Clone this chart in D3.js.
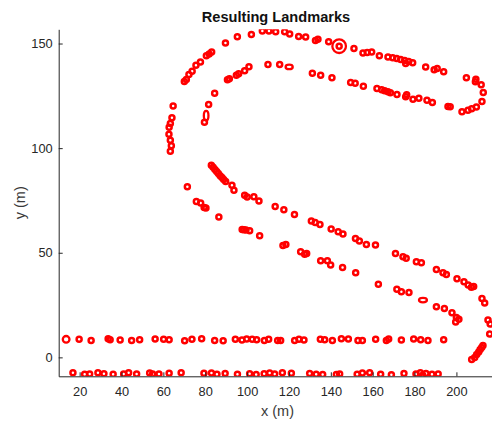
<!DOCTYPE html>
<html>
<head>
<meta charset="utf-8">
<script src="https://cdn.jsdelivr.net/npm/d3@7"></script>
<style>
  body { margin: 0; background: #fff; }
  svg { display: block; }
  text { font-family: "Liberation Sans", Arial, Helvetica, sans-serif; fill: #262626; }
</style>
</head>
<body>
<svg id="chart" width="492" height="421"></svg>
<script>
// Estimated landmark positions [x (m), y (m)], grouped by the road edge they line.
const upperRow = [[19.76,8.6],[25.49,8.1],[33.62,8.9],[34.57,8.4],[39.35,8.3],[44.84,8.1],[48.67,8.4],[56.07,8.8],[60.13,8.6],[62.76,8.4],[70.17,7.9],[73.66,8.6],[78.29,8.9],[84.50,8.1],[88.56,7.9],[94.39,8.6],[97.54,8.3],[99.79,8.8],[102.42,8.6],[104.57,8.4],[108.25,8.1],[110.30,8.6],[114.60,8.1],[116.03,8.1],[122.72,8.1],[124.78,8.6],[127.17,8.3],[135.00,8.6],[137.06,8.4],[140.74,8.1],[145.04,8.9],[148.38,8.8],[152.97,8.1],[155.07,8.1],[161.42,8.6],[166.53,8.1],[167.63,8.8],[173.70,8.3],[179.58,8.8],[182.92,8.4],[186.41,8.1],[193.91,8.4]];

const lowerRow = [[16.80,-7.3],[22.39,-8.1],[24.78,-7.9],[28.74,-7.4],[31.61,-7.8],[36.01,-8.1],[41.02,-7.9],[43.41,-7.4],[47.23,-8.0],[53.45,-7.5],[54.88,-7.9],[57.89,-8.0],[62.76,-7.6],[68.50,-7.3],[79.39,-7.6],[82.97,-7.5],[85.60,-8.1],[89.52,-7.7],[95.39,-8.1],[101.22,-7.8],[104.33,-8.2],[108.15,-7.8],[110.78,-7.5],[113.17,-7.9],[116.85,-7.4],[121.15,-7.6],[129.89,-7.7],[133.00,-8.1],[136.10,-8.2],[142.65,-8.2],[144.22,-8.0],[152.59,-8.1],[155.07,-7.5],[158.56,-7.4],[163.81,-8.1],[168.93,-8.3],[174.95,-7.7],[180.68,-7.9],[182.78,-7.4],[183.88,-8.5],[185.46,-7.7],[188.32,-8.1],[191.28,-8.0]];

const turnEntry = [[207.29,-1.05],[208.73,-0.1],[209.68,1.34],[210.64,2.53],[211.35,3.73],[212.07,4.68],[212.69,5.64],[215.89,11.13],[216.13,15.91],[215.08,17.82]];

const upperDiagonal = [[82.92,91.88],[83.78,90.92],[84.64,89.82],[85.46,88.87],[86.27,87.91],[87.13,86.86],[87.99,85.91],[88.80,85.05],[89.76,84.09],[92.77,82.32],[93.72,79.93],[98.83,77.54],[100.03,76.59],[103.23,76.73],[105.67,74.68],[113.41,72.05],[117.56,70.52],[122.63,68.32],[130.70,65.22],[132.52,64.50],[134.81,63.55],[140.16,61.40],[143.51,60.01],[145.80,58.91],[151.77,56.86],[153.64,55.57],[156.98,53.99],[161.33,53.66],[170.88,49.69],[174.47,48.06],[176.00,47.35],[180.87,45.68],[183.26,45.20],[190.43,41.95],[193.58,40.42],[195.20,39.66],[200.27,37.55],[203.61,36.12],[205.62,34.54],[207.15,33.49],[208.24,33.92],[212.21,28.19],[213.50,26.04]];

const lowerDiagonal = [[71.46,81.51],[75.76,74.53],[77.81,73.72],[79.48,71.57],[80.34,71.33],[86.51,67.03],[97.64,61.16],[98.50,61.00],[99.46,60.92],[101.22,60.49],[106.00,58.10],[117.13,53.51],[118.52,53.99],[125.59,50.45],[127.50,49.26],[128.46,49.69],[135.15,46.15],[138.35,46.15],[139.92,44.10],[145.61,42.90],[151.87,40.42],[162.71,34.93],[171.55,32.54],[173.70,31.34],[177.33,30.96],[190.43,24.18],[194.25,23.41],[197.88,21.31],[199.98,19.02],[201.18,18.20],[199.65,16.87]];

const outerArc = [[63.33,98.57],[63.81,101.10],[63.33,103.82],[62.67,106.69],[62.76,110.03],[63.33,111.80],[64.10,114.48],[64.67,120.16],[70.02,131.87],[70.98,132.82],[72.22,135.21],[73.75,136.79],[75.57,139.66],[77.72,141.23],[80.54,144.10],[81.87,145.01],[83.07,146.01],[89.66,150.31],[95.35,153.18],[102.04,154.32],[107.29,156.04],[110.45,156.04],[113.65,155.66],[117.95,155.57],[120.34,154.61],[124.63,153.37],[127.98,153.13],[132.66,151.46],[133.85,152.08],[138.97,150.79],[143.98,148.73],[151.05,147.64],[155.36,145.53],[157.36,145.72],[159.51,146.01],[163.19,144.10],[167.30,143.62],[169.55,143.24],[171.46,142.86],[173.37,142.38],[175.28,141.90],[177.19,141.42],[175.76,140.47],[179.10,140.76],[185.31,138.84],[189.37,137.41],[190.81,138.08],[193.91,136.46],[204.76,133.68],[209.30,132.87],[209.06,131.68],[211.83,130.24],[212.83,126.61],[212.21,122.31],[209.54,119.68],[207.29,118.87],[205.52,118.16],[202.66,117.34],[197.02,119.73],[195.97,119.92]];

const innerLoop = [[131.18,135.83],[135.15,134.88],[140.54,133.68],[149.48,131.39],[151.63,130.96],[155.55,129.62],[162.04,128.52],[164.29,127.95],[165.72,127.38],[167.30,126.90],[168.45,126.42],[171.60,125.66],[175.76,124.61],[176.23,125.47],[179.24,123.41],[182.06,123.89],[185.93,122.93],[188.51,121.83]];

const innerArc = [[79.63,112.33],[81.63,120.88],[84.50,126.28],[90.62,132.63],[91.52,133.21],[94.87,134.88],[95.97,135.50],[98.83,137.03],[100.89,138.94],[109.97,139.99],[115.56,139.99]];

// Landmarks with a larger position uncertainty: [x, y, semi-axis x (m), semi-axis y (m)]
const uncertainLandmarks = [[13.55,8.6,1.6,1.6],[184.02,27.38,1.9,1.1],[80.44,115.53,1.1,2.3],[120.10,138.84,1.7,1.1]];

// Currently observed landmark (drawn with a highlight ring)
const currentLandmark = [[143.98,148.73]];

const xTicks = [20, 40, 60, 80, 100, 120, 140, 160, 180, 200];
const yTicks = [0, 50, 100, 150];

const svg = d3.select("#chart");
const x = d3.scaleLinear().domain([10, 217]).range([58.7, 492]);
const y = d3.scaleLinear().domain([-9.05, 156.8]).range([376.3, 29.3]);
const axisColor = "#262626";
const red = "#ff0000";
const markerR = 2.5;
const markerW = 2.5;

svg.append("defs").append("clipPath").attr("id", "plotClip")
  .append("rect").attr("x", 58.7).attr("y", 29.3).attr("width", 492 - 58.7).attr("height", 347);

const plot = svg.append("g").attr("clip-path", "url(#plotClip)");

const groups = [upperRow, lowerRow, turnEntry, upperDiagonal, lowerDiagonal, outerArc, innerLoop, innerArc];
const allPts = groups.flat();

plot.selectAll("ellipse.lm").data(allPts).join("ellipse")
  .attr("class", "lm")
  .attr("cx", d => x(d[0])).attr("cy", d => y(d[1]))
  .attr("rx", markerR).attr("ry", markerR)
  .attr("fill", "none").attr("stroke", red).attr("stroke-width", markerW);

plot.selectAll("ellipse.unc").data(uncertainLandmarks).join("ellipse")
  .attr("class", "unc")
  .attr("cx", d => x(d[0])).attr("cy", d => y(d[1]))
  .attr("rx", d => x(d[0] + d[2]) - x(d[0])).attr("ry", d => y(d[1]) - y(d[1] + d[3]))
  .attr("fill", "none").attr("stroke", red).attr("stroke-width", 2.3);

plot.selectAll("circle.cur").data(currentLandmark).join("circle")
  .attr("class", "cur")
  .attr("cx", d => x(d[0])).attr("cy", d => y(d[1]))
  .attr("r", 6.8)
  .attr("fill", "none").attr("stroke", red).attr("stroke-width", 2.3);

// Axes (MATLAB-style: ticks pointing inward, no box)
const xAxis = d3.axisBottom(x).tickValues(xTicks).tickSizeInner(-4).tickSizeOuter(0).tickPadding(11);
const yAxis = d3.axisLeft(y).tickValues(yTicks).tickSizeInner(-4).tickSizeOuter(0).tickPadding(6);

const gx = svg.append("g").attr("transform", "translate(0,376.3)").call(xAxis);
const gy = svg.append("g").attr("transform", "translate(58.7,0)").call(yAxis);
[gx, gy].forEach(g => {
  g.select(".domain").attr("stroke", axisColor).attr("stroke-width", 1);
  g.selectAll(".tick line").attr("stroke", axisColor);
  g.selectAll(".tick text").attr("fill", "#3a3a3a").style("font-size", "12.8px")
    .style("font-family", '"Liberation Sans", Arial, sans-serif');
});

svg.append("text").attr("x", 276).attr("y", 21.5).attr("text-anchor", "middle")
  .style("font-size", "14.6px").style("font-weight", "bold").style("fill", "#111")
  .text("Resulting Landmarks");

svg.append("text").attr("x", 277.5).attr("y", 415.5).attr("text-anchor", "middle")
  .style("font-size", "14.5px").style("fill", "#3a3a3a").text("x (m)");

svg.append("text").attr("transform", "translate(24.5,202.8) rotate(-90)").attr("text-anchor", "middle")
  .style("font-size", "14.5px").style("fill", "#3a3a3a").text("y (m)");
</script>
</body>
</html>
